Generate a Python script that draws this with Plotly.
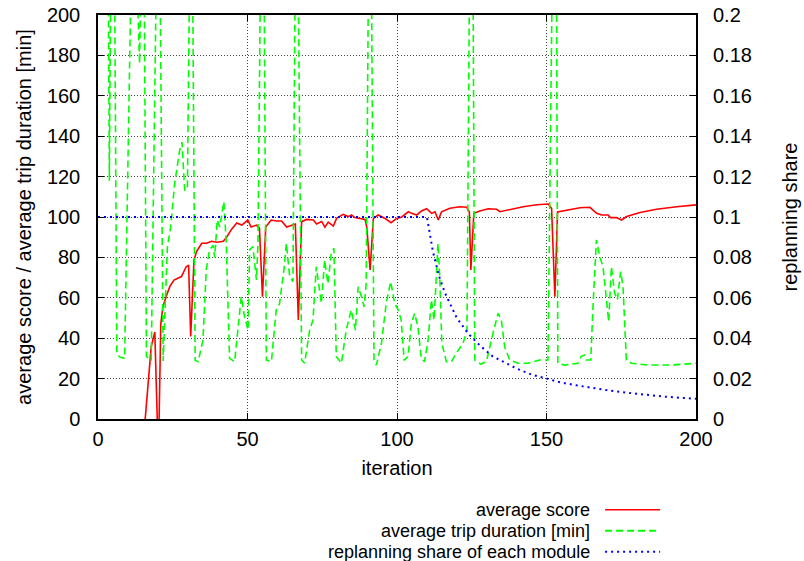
import plotly.graph_objects as go

# ---- data ----
score_iter = [15.5, 17.8, 19.0, 20.2, 21.0, 21.7, 22.9, 24.0, 25.4, 27.9, 29.5, 30.3, 31.0, 32.1, 33.0,
              34.7, 36.3, 38.0, 39.7, 41.9, 43.0, 44.7, 46.4, 48.1, 50.1, 51.2, 53.0, 54.0, 55.0, 56.1,
              57.9, 59.7, 61.4, 63.1, 66.0, 67.0, 68.1, 69.8, 72.0, 73.1, 74.8, 75.9, 77.0, 78.7, 79.8,
              82.0, 83.7, 84.8, 85.9, 87.0, 89.3, 89.9, 91.0, 92.1, 93.7, 96.0, 98.0, 99.9, 101.6, 103.8,
              104.9, 106.6, 108.2, 109.9, 111.6, 112.7, 113.8, 114.9, 117.7, 121.0, 123.3, 124.2, 124.7,
              125.7, 127.7, 130.5, 133.3, 134.4, 137.8, 142.2, 146.7, 150.6, 151.7, 152.8, 153.7, 157.9,
              161.2, 164.5, 166.8, 168.4, 170.6, 171.4, 173.4, 175.1, 176.8, 181.3, 186.8, 193.5, 200.0]
score_val = [-5, 35.8, 43, -20, 47, 55.6, 61, 65.5, 68.8, 70.5, 75.4, 76.2, 40.8, 78.7, 83,
             87, 87, 88, 87.5, 88, 90, 94, 97, 96, 98.5, 95, 96, 94.5, 60.5, 95,
             98.5, 98, 98, 95, 96.5, 49, 97.7, 98.8, 98.5, 96.5, 97.8, 95, 97.5, 95.5, 99.3,
             101.3, 100.2, 101, 99.7, 99.3, 98.8, 95, 73.8, 99.3, 101, 99.3, 97.2, 99.3, 100, 102.6,
             101.8, 101, 103, 104.1, 101.8, 102.6, 98.5, 102.6, 104.3, 105.1, 104.8, 102.5, 73.8,
             101.8, 103, 104.1, 103.8, 102.6, 103.8, 105.1, 106.1, 106.4, 104.3, 60.5, 102.5, 103.8,
             104.6, 104.8, 101.8, 101, 101, 99.7, 99.7, 98.5, 100.2, 102.2, 103.8, 105.1, 106]

trip_iter = [3.4, 3.8, 4.3, 5.5, 6.3, 7.5, 8.9, 11.2, 12.8, 13.9, 14.5, 15.4, 16.2, 17.8, 19.6, 20.7,
             21.8, 23.2, 24.3, 25.6, 27.3, 28.1, 29.0, 29.9, 30.7, 31.6, 32.5, 33.5, 35.1, 36.2, 37.3,
             38.5, 39.0, 39.9, 40.7, 42.1, 42.9, 44.0, 45.7, 46.8, 47.9, 49.0, 50.2, 50.7, 51.8, 53.0,
             53.5, 54.4, 55.5, 56.3, 58.0, 59.6, 60.7, 62.2, 63.0, 64.1, 65.2, 66.0, 66.9, 68.1, 69.1,
             70.8, 71.9, 73.0, 74.7, 75.8, 76.9, 78.0, 78.9, 79.7, 81.4, 83.0, 84.7, 86.1, 87.0, 88.1,
             89.0, 89.7, 90.5, 91.4, 92.3, 93.1, 94.8, 96.4, 97.9, 99.2, 100.4, 101.4, 102.4, 103.7,
             104.8, 105.9, 107.0, 108.1, 109.2, 110.4, 111.5, 112.4, 113.2, 113.7, 114.3, 115.0, 116.5,
             118.2, 119.8, 122.1, 123.4, 124.3, 125.4, 126.0, 128.0, 129.9, 132.1, 133.8, 134.9, 136.0,
             137.7, 140.5, 143.8, 147.7, 150.5, 152.0, 153.3, 153.8, 156.1, 160.5, 161.6, 162.8, 163.3,
             164.8, 165.6, 166.7, 167.8, 168.9, 169.5, 170.8, 171.7, 172.8, 173.7, 174.8, 175.6, 176.7,
             178.4, 184.0, 191.7, 199.5, 200.0]
trip_val = [230, 118, 230, 230, 32, 30.5, 30, 230, 230, 176, 230, 230, 31, 29, 230, 230,
            28.7, 85, 95, 116, 133, 137, 113, 115, 230, 230, 29, 28.4, 39, 74, 83.7,
            86, 80, 98.5, 95, 107.6, 87, 30, 28.4, 44, 60.6, 50.7, 44, 83.7, 85.3, 68.8,
            87, 230, 230, 29.2, 28.4, 54, 57, 74, 87, 70.5, 68, 230, 230, 29.2, 27.6,
            44, 49, 75.4, 57.3, 78.7, 67, 82, 84.5, 30.9, 27.6, 44, 54, 44, 65.5, 60.6,
            55.6, 67, 230, 230, 29.2, 26.7, 37.5, 57.3, 68, 57.3, 54, 49, 29, 31,
            47.4, 52.3, 45.7, 30, 28.4, 39, 59, 49, 70.5, 87, 70.5, 37.5, 28.4,
            28.4, 32.5, 37.5, 44, 230, 230, 29.2, 27.2, 28.4, 42.4, 52.3, 49, 35.8,
            29.2, 27.6, 27.6, 29.2, 29.2, 230, 230, 27.6, 26.7, 27.6, 31, 31.7, 29.2,
            29.2, 57.3, 88.6, 80.4, 75.4, 67, 48.2, 75.4, 62.2, 59, 73, 65.5, 29.2,
            27.6, 26.7, 26.7, 27.6, 27.6]

share_iter = [0, 110, 112, 114, 116, 118, 120, 124, 128, 132, 136, 140, 145, 150, 155, 160, 170,
              180, 190, 200]
share_val = [0.1, 0.1, 0.083, 0.071, 0.0625, 0.056, 0.05, 0.042, 0.036, 0.031, 0.028, 0.025,
             0.022, 0.02, 0.018, 0.0167, 0.0143, 0.0125, 0.011, 0.01]

y1_ticks = [0, 20, 40, 60, 80, 100, 120, 140, 160, 180, 200]
y2_ticks = [0, 0.02, 0.04, 0.06, 0.08, 0.1, 0.12, 0.14, 0.16, 0.18, 0.2]
y2_labels = ["0", "0.02", "0.04", "0.06", "0.08", "0.1", "0.12", "0.14", "0.16", "0.18", "0.2"]
x_ticks = [0, 50, 100, 150, 200]

legend_names = ["average score", "average trip duration [min]", "replanning share of each module"]
colors = ["#ff0000", "#00ff00", "#0000ff"]
dashes = ["solid", "7px,4px", "2px,4px"]

FONT = "Liberation Sans, Arial, sans-serif"
FS = 20
LEG_FS = 18

fig = go.Figure()
fig.add_trace(go.Scatter(x=score_iter, y=score_val, mode="lines", name=legend_names[0],
                         line=dict(color=colors[0], width=1.6, dash=dashes[0])))
fig.add_trace(go.Scatter(x=trip_iter, y=trip_val, mode="lines", name=legend_names[1],
                         line=dict(color=colors[1], width=1.6, dash=dashes[1])))
fig.add_trace(go.Scatter(x=share_iter, y=share_val, mode="lines", name=legend_names[2],
                         yaxis="y2", line=dict(color=colors[2], width=2, dash=dashes[2])))

axis_common = dict(showline=True, linecolor="black", linewidth=1.5, ticks="inside",
                   ticklen=6, tickcolor="black", zeroline=False, automargin=False,
                   tickfont=dict(family=FONT, size=FS, color="black"))

fig.update_layout(
    width=804, height=561,
    margin=dict(l=98, r=108, t=15, b=142),
    paper_bgcolor="white", plot_bgcolor="white",
    showlegend=False,
    font=dict(family=FONT, size=FS, color="black"),
    xaxis=dict(range=[0, 200], tickvals=x_ticks, mirror="ticks", showgrid=True,
               gridcolor="#444", griddash="1px,2px", gridwidth=1,
               title=dict(text="iteration", standoff=12, font=dict(family=FONT, size=FS)),
               ticklabelstandoff=1, **axis_common),
    yaxis=dict(range=[0, 200], tickvals=y1_ticks, mirror="ticks", showgrid=True,
               gridcolor="#444", griddash="1px,2px", gridwidth=1,
               title=dict(text="average score / average trip duration [min]", standoff=10,
                          font=dict(family=FONT, size=FS)),
               ticklabelstandoff=12, **axis_common),
    yaxis2=dict(range=[0, 0.2], tickvals=y2_ticks, ticktext=y2_labels, overlaying="y",
                side="right", showgrid=False, showline=False, ticks="", automargin=False,
                tickfont=dict(family=FONT, size=FS, color="black"),
                title=dict(text="replanning share", standoff=32, font=dict(family=FONT, size=FS)),
                ticklabelstandoff=16, zeroline=False),
)

# legend drawn in gnuplot style: right-aligned text with a sample line on its right
leg_y = [-0.2245, -0.2765, -0.3285]
for name, c, d, yy in zip(legend_names, colors, dashes, leg_y):
    fig.add_annotation(x=0.826, y=yy, xref="paper", yref="paper", text=name, showarrow=False,
                       xanchor="right", yanchor="middle", font=dict(family=FONT, size=LEG_FS))
    fig.add_shape(type="line", xref="paper", yref="paper", x0=0.848, x1=0.94, y0=yy, y1=yy,
                  line=dict(color=c, width=2 if d != "solid" else 1.6, dash=d))

fig.write_html("out.html")
